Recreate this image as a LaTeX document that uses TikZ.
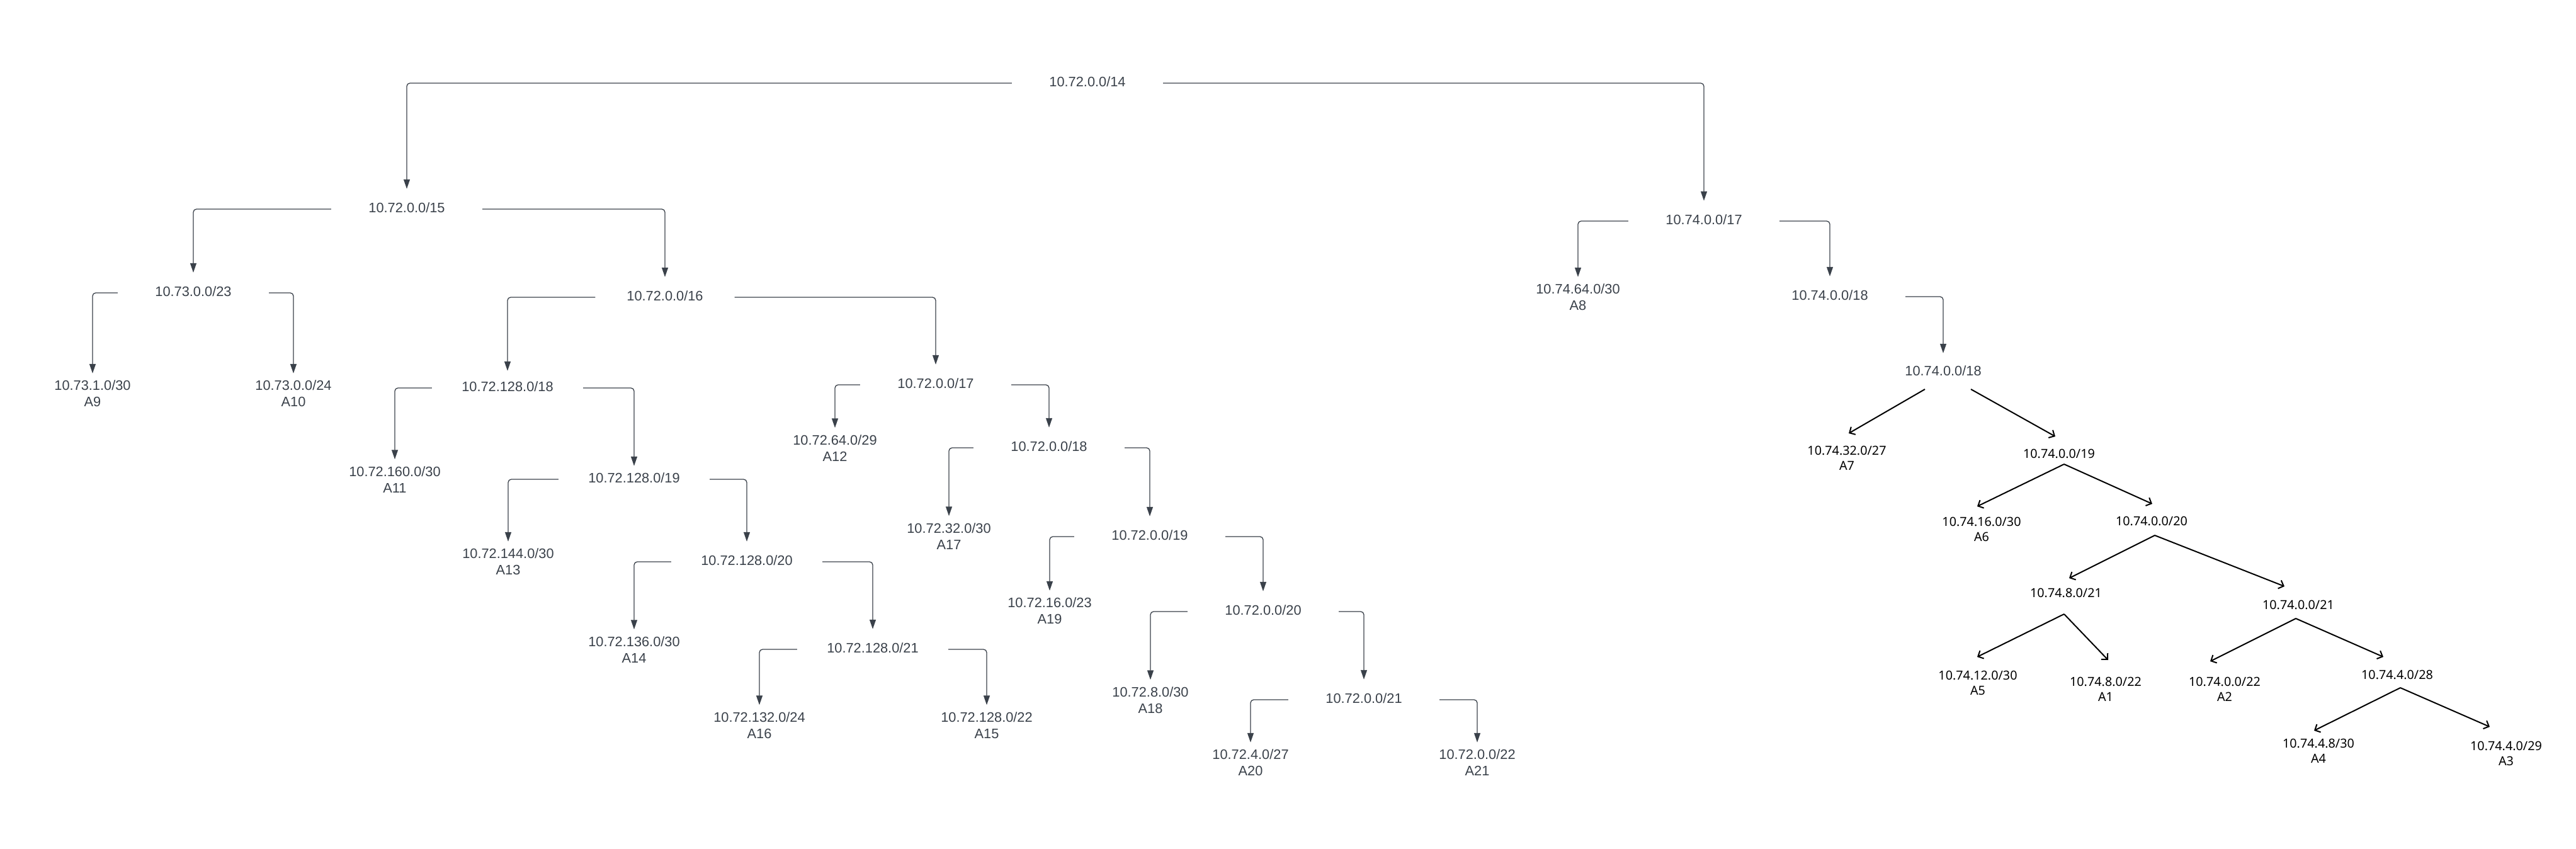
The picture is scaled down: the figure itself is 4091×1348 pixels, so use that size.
\documentclass[tikz,border=0pt]{standalone}
\usepackage{fontspec}
\setmainfont{Liberation Sans}
\newfontfamily\notofont{Noto Sans}
\usetikzlibrary{arrows.meta}
\definecolor{lc}{HTML}{3A414A}
\begin{document}
\begin{tikzpicture}[x=1pt,y=-1pt,
  inode/.style={text=lc, font=\fontsize{21.8}{26}\selectfont, inner sep=0pt, minimum width=240pt, minimum height=60pt},
  leaf/.style={text=lc, font=\fontsize{21.8}{26}\selectfont, inner sep=0pt, align=center, minimum height=64pt},
  bnode/.style={text=black, font=\notofont\fontsize{19.8}{23.5}\selectfont, inner sep=0pt, align=center},
  conn/.style={draw=lc, line width=1.3pt, rounded corners=5pt, -{Triangle[length=15pt,width=10pt]}},
  barrow/.style={draw=black, line width=2pt, -{Straight Barb[length=7pt,width=14pt]}}
]
\useasboundingbox (0,0) rectangle (4091,1348);
% internal gray nodes
\node[inode] (r14) at (1727,130) {10.72.0.0/14};
\node[inode] (n15) at (646,330) {10.72.0.0/15};
\node[inode] (n23) at (307,463) {10.73.0.0/23};
\node[inode, minimum width=221pt] (n16) at (1056,470) {10.72.0.0/16};
\node[inode, minimum height=50pt] (n18a) at (806,614) {10.72.128.0/18};
\node[inode, minimum height=38pt] (n19a) at (1007,759) {10.72.128.0/19};
\node[inode] (n20a) at (1186,890) {10.72.128.0/20};
\node[inode] (n21a) at (1386,1029) {10.72.128.0/21};
\node[inode] (n17) at (1486,609) {10.72.0.0/17};
\node[inode] (n18) at (1666,709) {10.72.0.0/18};
\node[inode] (n19) at (1826,850) {10.72.0.0/19};
\node[inode] (n20) at (2006,969) {10.72.0.0/20};
\node[inode] (n21) at (2166,1109) {10.72.0.0/21};
\node[inode] (n17r) at (2706,349) {10.74.0.0/17};
\node[inode] (p18a) at (2906,469) {10.74.0.0/18};
\node[inode, minimum height=56pt] (p18b) at (3086,589) {10.74.0.0/18};
% gray leaves
\node[leaf] (a9) at (147,625) {10.73.1.0/30\\A9};
\node[leaf] (a10) at (466,625) {10.73.0.0/24\\A10};
\node[leaf] (a11) at (627,761.5) {10.72.160.0/30\\A11};
\node[leaf] (a13) at (807,892) {10.72.144.0/30\\A13};
\node[leaf] (a14) at (1007,1031.5) {10.72.136.0/30\\A14};
\node[leaf] (a16) at (1206,1151.5) {10.72.132.0/24\\A16};
\node[leaf] (a15) at (1567,1151.5) {10.72.128.0/22\\A15};
\node[leaf] (a12) at (1326,711.5) {10.72.64.0/29\\A12};
\node[leaf] (a17) at (1507,851.5) {10.72.32.0/30\\A17};
\node[leaf] (a19) at (1667,970) {10.72.16.0/23\\A19};
\node[leaf] (a18) at (1827,1111.5) {10.72.8.0/30\\A18};
\node[leaf] (a20) at (1986,1211) {10.72.4.0/27\\A20};
\node[leaf] (a21) at (2346,1211) {10.72.0.0/22\\A21};
\node[leaf] (a8) at (2506,472) {10.74.64.0/30\\A8};
% black nodes
\node[bnode] (b32) at (2933,727.5) {10.74.32.0/27\\A7};
\node[bnode] (b19) at (3270,720) {10.74.0.0/19};
\node[bnode] (b16) at (3147,840.5) {10.74.16.0/30\\A6};
\node[bnode] (b20) at (3417,827) {10.74.0.0/20};
\node[bnode] (b821) at (3281,941) {10.74.8.0/21};
\node[bnode] (b021) at (3650,960) {10.74.0.0/21};
\node[bnode] (b12) at (3141,1084.5) {10.74.12.0/30\\A5};
\node[bnode] (b822) at (3344,1094.5) {10.74.8.0/22\\A1};
\node[bnode] (b022) at (3533,1094.5) {10.74.0.0/22\\A2};
\node[bnode] (b428) at (3807,1071) {10.74.4.0/28};
\node[bnode] (b48) at (3682,1192.5) {10.74.4.8/30\\A4};
\node[bnode] (b429) at (3980,1196.5) {10.74.4.0/29\\A3};
% gray elbow connectors
\draw[conn] ([yshift=-2pt]r14.west) -| (n15.north);
\draw[conn] ([yshift=-2pt]r14.east) -| (n17r.north);
\draw[conn] ([yshift=-2pt]n15.west) -| (n23.north);
\draw[conn] ([yshift=-2pt]n15.east) -| (n16.north);
\draw[conn] ([yshift=-2pt]n23.west) -| (a9.north);
\draw[conn] ([yshift=-2pt]n23.east) -| (a10.north);
\draw[conn] ([yshift=-2pt]n16.west) -| (n18a.north);
\draw[conn] ([yshift=-2pt]n16.east) -| (n17.north);
\draw[conn] ([yshift=-2pt]n18a.west) -| (a11.north);
\draw[conn] ([yshift=-2pt]n18a.east) -| (n19a.north);
\draw[conn] ([yshift=-2pt]n19a.west) -| (a13.north);
\draw[conn] ([yshift=-2pt]n19a.east) -| (n20a.north);
\draw[conn] ([yshift=-2pt]n20a.west) -| (a14.north);
\draw[conn] ([yshift=-2pt]n20a.east) -| (n21a.north);
\draw[conn] ([yshift=-2pt]n21a.west) -| (a16.north);
\draw[conn] ([yshift=-2pt]n21a.east) -| (a15.north);
\draw[conn] ([yshift=-2pt]n17.west) -| (a12.north);
\draw[conn] ([yshift=-2pt]n17.east) -| (n18.north);
\draw[conn] ([yshift=-2pt]n18.west) -| (a17.north);
\draw[conn] ([yshift=-2pt]n18.east) -| (n19.north);
\draw[conn] ([yshift=-2pt]n19.west) -| (a19.north);
\draw[conn] ([yshift=-2pt]n19.east) -| (n20.north);
\draw[conn] ([yshift=-2pt]n20.west) -| (a18.north);
\draw[conn] ([yshift=-2pt]n20.east) -| (n21.north);
\draw[conn] ([yshift=-2pt]n21.west) -| (a20.north);
\draw[conn] ([yshift=-2pt]n21.east) -| (a21.north);
\draw[conn] ([yshift=-2pt]n17r.west) -| (a8.north);
\draw[conn] ([yshift=-2pt]n17r.east) -| (p18a.north);
\draw[conn] ([yshift=-2pt]p18a.east) -| (p18b.north);
% black straight arrows
\draw[barrow] ([shift={(-29,29)}]p18b.center) -- ([shift={(3,-39.5)}]b32.center);
\draw[barrow] ([shift={(44,29)}]p18b.center) -- ([shift={(-6,-27)}]b19.center);
\draw[barrow] ([shift={(8,17)}]b19.center) -- ([shift={(-7,-36.5)}]b16.center);
\draw[barrow] ([shift={(8,17)}]b19.center) -- ([shift={(1,-27)}]b20.center);
\draw[barrow] ([shift={(5,23)}]b20.center) -- ([shift={(5,-23)}]b821.center);
\draw[barrow] ([shift={(5,23)}]b20.center) -- ([shift={(-22,-29)}]b021.center);
\draw[barrow] ([shift={(-3,34)}]b821.center) -- ([shift={(-1,-41.5)}]b12.center);
\draw[barrow] ([shift={(-3,34)}]b821.center) -- ([shift={(4,-46.5)}]b822.center);
\draw[barrow] ([shift={(-4,22)}]b021.center) -- ([shift={(-23,-44.5)}]b022.center);
\draw[barrow] ([shift={(-4,22)}]b021.center) -- ([shift={(-22,-28)}]b428.center);
\draw[barrow] ([shift={(5,21)}]b428.center) -- ([shift={(-7,-32.5)}]b48.center);
\draw[barrow] ([shift={(5,21)}]b428.center) -- ([shift={(-26,-42.5)}]b429.center);
\end{tikzpicture}
\end{document}
